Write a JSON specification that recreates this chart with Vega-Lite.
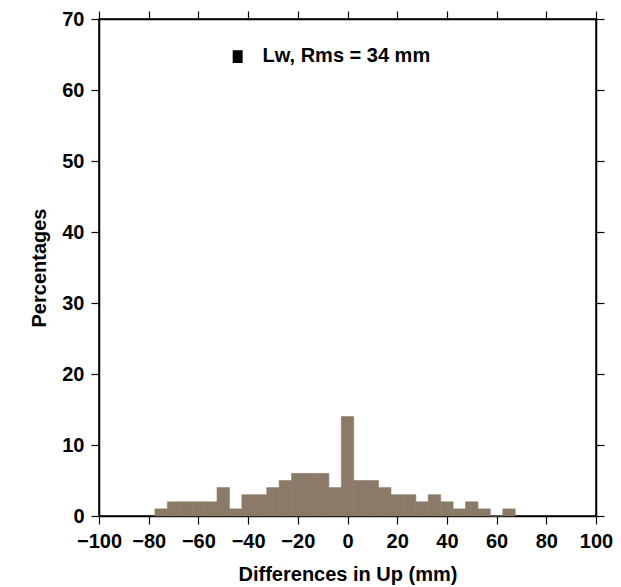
{
  "$schema": "https://vega.github.io/schema/vega-lite/v6.json",
  "width": 497,
  "height": 497,
  "autosize": {"type": "none"},
  "padding": {"left": 99, "top": 19, "right": 25, "bottom": 71},
  "background": "white",
  "config": {
    "view": {"stroke": "black", "strokeWidth": 1.5},
    "axis": {
      "grid": false,
      "labelFont": "Liberation Sans",
      "labelFontWeight": "bold",
      "labelFontSize": 20,
      "labelColor": "black",
      "labelOverlap": false,
      "labelFlush": false,
      "titleFont": "Liberation Sans",
      "titleFontWeight": "bold",
      "titleFontSize": 20,
      "titleColor": "black",
      "tickColor": "black",
      "tickSize": 8,
      "tickWidth": 1.2,
      "domainColor": "black",
      "domainWidth": 1.5
    }
  },
  "datasets": {
    "hist": [
      {"lo": -77.5, "hi": -72.5, "pct": 1},
      {"lo": -72.5, "hi": -67.5, "pct": 2},
      {"lo": -67.5, "hi": -62.5, "pct": 2},
      {"lo": -62.5, "hi": -57.5, "pct": 2},
      {"lo": -57.5, "hi": -52.5, "pct": 2},
      {"lo": -52.5, "hi": -47.5, "pct": 4},
      {"lo": -47.5, "hi": -42.5, "pct": 1},
      {"lo": -42.5, "hi": -37.5, "pct": 3},
      {"lo": -37.5, "hi": -32.5, "pct": 3},
      {"lo": -32.5, "hi": -27.5, "pct": 4},
      {"lo": -27.5, "hi": -22.5, "pct": 5},
      {"lo": -22.5, "hi": -17.5, "pct": 6},
      {"lo": -17.5, "hi": -12.5, "pct": 6},
      {"lo": -12.5, "hi": -7.5, "pct": 6},
      {"lo": -7.5, "hi": -2.5, "pct": 4},
      {"lo": -2.5, "hi": 2.5, "pct": 14},
      {"lo": 2.5, "hi": 7.5, "pct": 5},
      {"lo": 7.5, "hi": 12.5, "pct": 5},
      {"lo": 12.5, "hi": 17.5, "pct": 4},
      {"lo": 17.5, "hi": 22.5, "pct": 3},
      {"lo": 22.5, "hi": 27.5, "pct": 3},
      {"lo": 27.5, "hi": 32.5, "pct": 2},
      {"lo": 32.5, "hi": 37.5, "pct": 3},
      {"lo": 37.5, "hi": 42.5, "pct": 2},
      {"lo": 42.5, "hi": 47.5, "pct": 1},
      {"lo": 47.5, "hi": 52.5, "pct": 2},
      {"lo": 52.5, "hi": 57.5, "pct": 1},
      {"lo": 57.5, "hi": 62.5, "pct": 0},
      {"lo": 62.5, "hi": 67.5, "pct": 1}
    ],
    "legend": [
      {"x0": -46.2, "x1": -42.2, "y0": 63.8, "y1": 65.6, "tx": -34.2, "ty": 64.8, "label": "Lw, Rms = 34 mm"}
    ]
  },
  "layer": [
    {
      "data": {"name": "hist"},
      "mark": {"type": "rect", "color": "#8B7A68", "stroke": "#8B7A68", "strokeWidth": 0.6},
      "encoding": {
        "x": {
          "field": "lo", "type": "quantitative",
          "scale": {"domain": [-100, 100], "nice": false, "zero": false},
          "axis": {"orient": "bottom", "values": [-100, -80, -60, -40, -20, 0, 20, 40, 60, 80, 100], "title": "Differences in Up (mm)", "labelPadding": 7, "titlePadding": 13}
        },
        "x2": {"field": "hi"},
        "y": {
          "field": "pct", "type": "quantitative",
          "scale": {"domain": [0, 70], "nice": false},
          "axis": {"orient": "left", "values": [0, 10, 20, 30, 40, 50, 60, 70], "title": "Percentages", "labelPadding": 7, "titlePadding": 12}
        },
        "y2": {"datum": 0}
      }
    },
    {
      "data": {"name": "legend"},
      "mark": {"type": "rect", "color": "black"},
      "encoding": {
        "x": {"field": "x0", "type": "quantitative", "axis": {"orient": "top", "values": [-100, -80, -60, -40, -20, 0, 20, 40, 60, 80, 100], "labels": false, "title": null}},
        "x2": {"field": "x1"},
        "y": {"field": "y0", "type": "quantitative", "axis": {"orient": "right", "values": [0, 10, 20, 30, 40, 50, 60, 70], "labels": false, "title": null}},
        "y2": {"field": "y1"}
      }
    },
    {
      "data": {"name": "legend"},
      "mark": {"type": "text", "align": "left", "baseline": "middle", "font": "Liberation Sans", "fontWeight": "bold", "fontSize": 20, "color": "black"},
      "encoding": {
        "x": {"field": "tx", "type": "quantitative", "axis": null},
        "y": {"field": "ty", "type": "quantitative", "axis": null},
        "text": {"field": "label"}
      }
    }
  ]
}
